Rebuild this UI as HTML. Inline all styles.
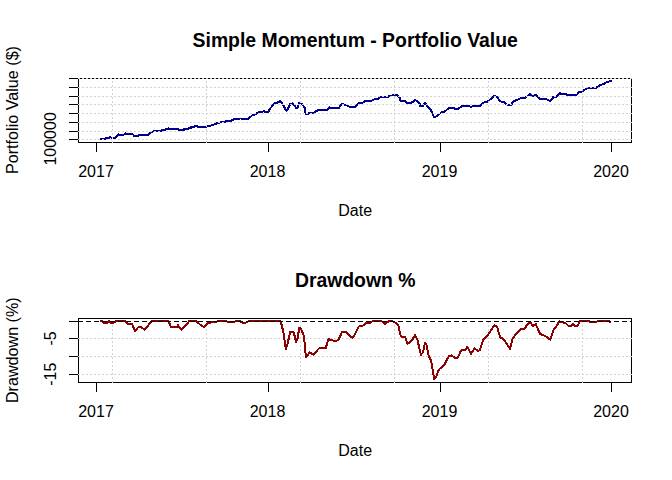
<!DOCTYPE html>
<html><head><meta charset="utf-8">
<style>
html,body{margin:0;padding:0;background:#fff;width:672px;height:480px;overflow:hidden}
svg{display:block}
text{font-family:"Liberation Sans",sans-serif;fill:#000}
.t{font-size:19.4px;font-weight:bold;text-anchor:middle}
.l{font-size:16px;text-anchor:middle}
.ax{stroke:#000;stroke-width:1;fill:none;shape-rendering:crispEdges}
.gr{stroke:#d3d3d3;stroke-width:1;fill:none;stroke-dasharray:2 2;shape-rendering:crispEdges}
.dl{fill:none;stroke-width:2;stroke-linejoin:round;stroke-linecap:round;shape-rendering:crispEdges}
</style></head><body>
<svg width="672" height="480" viewBox="0 0 672 480">
<!-- ===== Panel 1 ===== -->
<text transform="translate(355.2,47) scale(1,1.05)" class="t">Simple Momentum - Portfolio Value</text>
<text transform="translate(18,110) rotate(-90)" class="l" style="font-size:16.15px">Portfolio Value ($)</text>
<text transform="translate(56,138.9) rotate(-90)" class="l">100000</text>
<text x="96" y="177" class="l">2017</text>
<text x="267.5" y="177" class="l">2018</text>
<text x="439.5" y="177" class="l">2019</text>
<text x="611" y="177" class="l">2020</text>
<text x="355.2" y="216" class="l">Date</text>
<!-- box -->
<path class="ax" d="M78.5 78 V142.5 H631.5 V78"/>
<path class="ax" d="M78 78.5 H632"/>
<!-- y ticks -->
<path class="ax" d="M69 78.5H78M69 87.5H78M69 96.5H78M69 104.5H78M69 113.5H78M69 122.5H78M69 131.5H78M69 139.5H78"/>
<!-- x ticks -->
<path class="ax" d="M96.5 142V152M268.5 142V152M440.5 142V152M611.5 142V152"/>
<!-- data 1 -->
<path id="d1" class="dl" stroke="#00008b" d="M101 139.1 L102 139 L104.5 139.5 L106.5 138 L109.2 137.6 L109.8 136.9 L110.5 137.5 L112.6 137.5 L115.1 138.1 L118.25 134.4 L120.1 134.75 L123.25 134.75 L124.5 134.2 L125.5 133.3 L126.5 134 L132.6 134 L134.4 136.1 L138 136.1 L139.5 134.75 L148.25 134.75 L150.1 132.6 L152.7 131.6 L155.4 130.7 L159.8 130.7 L160.7 131.1 L161.6 129.7 L165.6 129.7 L166.2 128.8 L168 128.8 L168.3 128.2 L168.6 128.8 L178.4 128.8 L178.8 130 L183.9 130 L184.4 128.8 L188.4 128.8 L188.8 127.9 L191 127.9 L191.5 126.7 L194.6 126.7 L195 125.8 L197.3 125.8 L197.8 126.7 L206.7 126.7 L207.3 125.9 L210.75 125.6 L212.6 124.75 L215.1 124.4 L217 123.1 L218.9 123.5 L220.75 121.9 L223.9 122.25 L225.75 121.25 L230.75 121 L233.25 119.75 L235.1 118.75 L240.1 118.5 L248.25 118.75 L249.5 117.75 L252 115.6 L254.5 115 L257.6 112.75 L260.75 111.9 L263.9 111.25 L264.5 111.9 L268.25 111.9 L269.5 109.4 L272 106.25 L273.9 103.5 L276.4 103.1 L277.6 102.5 L278.9 101.9 L280.5 101 L282 103.1 L283.9 106.25 L286.4 111 L288.25 108.1 L290.1 104 L292.6 103.5 L294.5 105.6 L296.4 108.1 L297.6 107.25 L299.25 103.1 L301.4 103.5 L303.25 105.6 L304.5 107.5 L305.75 113.75 L307.6 114 L309.5 112.9 L312.6 113.1 L314.5 112.5 L317 110.6 L320.1 110 L327 109.75 L329.5 107.5 L336 107.75 L338.9 107.75 L340.75 105.5 L342.6 103.75 L343.9 104.6 L345.75 104.6 L347.6 105.9 L349.5 106.75 L355.1 106.75 L357 104.6 L358.9 102.5 L362.6 102.75 L365.75 100.9 L372.6 100.5 L374.5 99.25 L378.7 98.7 L379.5 97.4 L381.4 97.4 L382.2 96.8 L388.5 96.8 L389.3 95.8 L392 95.6 L393 94.6 L394 95.2 L397.5 95.2 L398.2 96 L400 98 L400.5 101 L405.5 101 L406.4 102.8 L411.7 102.8 L412.5 101.8 L413.5 101.5 L415.3 99.8 L418 102.2 L419.5 103.5 L420.4 106.4 L422.4 106.4 L425.3 102.8 L427.6 106.75 L430.75 110.1 L433.9 116.7 L435.75 116.7 L438.9 114.5 L441.4 112.25 L444.5 111.75 L446.4 110.1 L448.9 108 L453.9 108 L455.1 108.9 L458.25 108.9 L462 106 L468.9 106 L470.75 107 L473.25 106 L480.1 106 L483.25 103 L485.75 101.75 L487.6 101.75 L490.1 99.5 L492.6 97.6 L494.5 95.9 L497 96.75 L498.9 99.6 L500.75 101.5 L503.9 101.75 L505.75 103.4 L507.6 105 L511.4 105 L512 102.75 L514.5 100.9 L517.6 99.6 L520.75 98 L525.75 97.5 L527.6 95.9 L530.1 94 L532.6 95.9 L535.75 95 L539.5 98.75 L545.75 98.75 L549.5 100.9 L551.4 100.25 L553.25 97.1 L555.75 97.1 L558.9 93.9 L559.6 92.8 L560.3 93.9 L565.75 93.9 L567 95 L576.75 94.75 L579.25 92 L582.4 91.4 L584.9 89.5 L588 88 L595.5 88 L597.4 86.75 L600.5 85.1 L603.6 83.9 L606.75 82 L611 80.9"/>
<!-- grid -->
<path class="gr" d="M78 78.5H632M78 87.5H632M78 96.5H632M78 104.5H632M78 113.5H632M78 122.5H632M78 131.5H632M78 139.5H632"/>
<path class="gr" d="M112.5 81V143M206.5 81V143M300.5 81V143M394.5 81V143M488.5 81V143M582.5 81V143"/>

<!-- ===== Panel 2 ===== -->
<text transform="translate(355.2,287) scale(1,1.05)" class="t">Drawdown %</text>
<text transform="translate(18,350.2) rotate(-90)" class="l" style="font-size:16.15px">Drawdown (%)</text>
<text transform="translate(56,338.5) rotate(-90)" class="l">-5</text>
<text transform="translate(56,374.2) rotate(-90)" class="l">-15</text>
<text x="96" y="417" class="l">2017</text>
<text x="267.5" y="417" class="l">2018</text>
<text x="439.5" y="417" class="l">2019</text>
<text x="611" y="417" class="l">2020</text>
<text x="355.2" y="456" class="l">Date</text>
<path class="ax" d="M78.5 318.5 V382.5 H631.5 V318.5 Z"/>
<path class="ax" d="M69 321.5H78M69 338.5H78M69 356.5H78M69 374.5H78"/>
<path class="ax" d="M96.5 382V392M268.5 382V392M440.5 382V392M611.5 382V392"/>
<path class="gr" d="M78 338.5H632M78 356.5H632M78 374.5H632"/>
<path class="gr" d="M112.5 321V383M206.5 321V383M300.5 321V383M394.5 321V383M488.5 321V383M582.5 321V383"/>
<path id="d2" class="dl" stroke="#8b0000" d="M101 320.9 L102 321.25 L103.25 322.75 L107 322.75 L108.9 320.9 L110.75 322.75 L113.9 322.5 L116.4 320.9 L124.5 320.9 L127 323.4 L129.5 324 L132 324 L135.1 330.9 L138.9 326.5 L140.75 326.5 L144.5 330 L148.25 325.25 L152 320.9 L168.3 320.9 L171 326.8 L177 326.8 L178 325 L179.2 327 L181.6 330 L185.75 325.25 L189.3 321 L196.2 321 L200.1 324.6 L203.9 327 L205.5 325.9 L207.6 323.4 L210.75 322.5 L215.75 322.1 L218.9 320.9 L225.75 320.9 L228.25 322.1 L233.9 322.1 L235.75 320.9 L239.5 320.9 L243.25 323 L245.75 322.75 L248.25 321.25 L256 320.9 L280.1 320.9 L281.4 324 L283.25 331.5 L285.75 349 L287.6 344 L290.1 332.1 L292 331.5 L293.9 332.75 L296 342.1 L297.6 338.4 L299.25 327.75 L300.75 328.4 L303.9 335.9 L305.9 357 L307.3 356.3 L309.5 352.1 L313.25 354.6 L319.5 348 L325.75 348 L328.5 339 L330.75 340.25 L336 340.9 L337 340.5 L338.9 339 L342 332.1 L345.75 332.1 L352.6 338 L355.1 334 L358.9 326.5 L362.6 325.9 L366.4 322.75 L370.75 322.5 L372.6 320.9 L381.4 320.9 L385.1 324 L388.9 320.9 L392.6 321.25 L394.5 322.1 L398.25 324.6 L400.75 336.5 L405.1 337.1 L407.6 343.75 L412 340.25 L415 335.2 L417.5 340 L420.9 354.8 L423 352.4 L425.1 342.7 L426.4 344.1 L428.5 355.1 L431.25 361.3 L434.3 379.3 L436.1 376.9 L438.8 369.6 L444.3 364.7 L449.1 355.8 L451.2 355.4 L456 358.6 L458.1 357.2 L460.8 350.7 L462.9 349.9 L464.9 349.9 L467.4 346.9 L471.1 353.7 L474.6 348.5 L478 351 L480 349.9 L483.5 339.3 L486.9 336.6 L490.4 331.1 L494.5 325.25 L497 326.5 L500.1 337.1 L503.9 339.6 L507 344 L510.1 348.75 L512.6 339 L516.4 333.4 L520.75 329 L524.5 328.75 L526.4 325.9 L530.1 321.5 L532.6 325.9 L535.75 324 L540.1 334 L545.1 335.9 L550.1 339.6 L551.75 335.1 L553.6 329.5 L556.75 325.75 L559.25 321.4 L565.5 323 L568.6 326 L571.1 326 L573 324.25 L574.9 326 L577.4 326 L579.9 321 L588 320.5 L589.9 322 L596.1 322 L598 320.75 L609.25 321 L610.3 322"/>
<path class="ax" d="M78 321.5H631" style="stroke-dasharray:5 3"/>
</svg>
</body></html>
